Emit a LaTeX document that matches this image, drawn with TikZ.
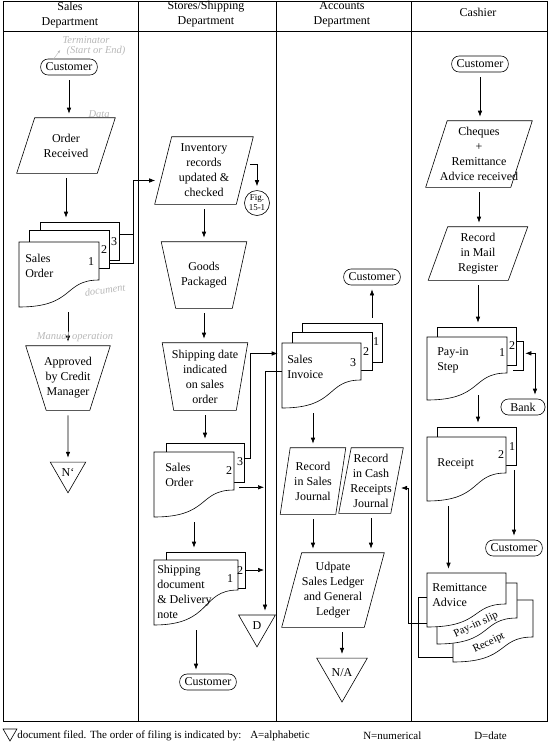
\documentclass[tikz,border=0pt]{standalone}
\usepackage{fontspec}
\setmainfont{Liberation Serif}
\usetikzlibrary{arrows.meta,calc,fit,shapes.geometric}

\tikzset{
  lane/.style={line width=0.8pt},
  txt/.style={inner sep=0pt, align=center},
  num/.style={inner sep=0pt},
  term/.style={draw, rounded corners=7.5pt, minimum height=16pt, inner xsep=5pt, inner ysep=0pt},
  filed/.style={draw, regular polygon, regular polygon sides=3, shape border rotate=180, inner sep=0pt, minimum size=#1},
  flow/.style={-{Latex[length=6pt,width=4.5pt]}, shorten <=5pt, shorten >=4pt},
  twoway/.style={{Latex[length=6pt,width=4.5pt]}-{Latex[length=6pt,width=4.5pt]}, shorten >=4pt},
  scrawl/.style={text=black!28, inner sep=0pt, font=\itshape\fontsize{10.5}{10}\selectfont},
  legend/.style={anchor=west, inner sep=0pt, font=\fontsize{11}{13}\selectfont},
  slip/.style={inner sep=0pt, font=\fontsize{11}{13}\selectfont},
}

% data box (parallelogram): name, centre, width, height, half slant, text
\newcommand{\iobox}[6]{%
  \node[txt, minimum width=#3pt, minimum height=#4pt] (#1) at (#2) {#6};
  \draw ($(#1.north west)+(#5,0)$) -- ($(#1.north east)+(#5,0)$) -- ($(#1.south east)-(#5,0)$) -- ($(#1.south west)-(#5,0)$) -- cycle;}
% manual operation (wide top): name, centre, width, height, half taper, text
\newcommand{\manop}[6]{%
  \node[txt, minimum width=#3pt, minimum height=#4pt] (#1) at (#2) {#6};
  \draw ($(#1.north west)-(#5,0)$) -- ($(#1.north east)+(#5,0)$) -- ($(#1.south east)-(#5,0)$) -- ($(#1.south west)+(#5,0)$) -- cycle;}
% copy behind a document: name, left, top, right, bottom
\newcommand{\copysheet}[5]{%
  \draw[fill=white] (#2,#3) rectangle (#4,#5);
  \node[inner sep=0pt, fit={(#2,#3) (#4,#5)}] (#1) {};}
% document with wavy edge: name, left, top, right, bottom left, bottom right
\newcommand{\docsheet}[6]{%
  \draw[fill=white] (#2,#3) -- (#4,#3) -- (#4,#6) .. controls ({#2+0.55*(#4-#2)},#6) and ({#2+0.7*(#4-#2)},#5) .. (#2,#5) -- cycle;
  \node[inner sep=0pt, fit={(#2,#3) (#4,#5)}] (#1) {};}

\begin{document}
\begin{tikzpicture}[x=1pt, y=-1pt, line width=0.6pt,
    every node/.append style={font=\fontsize{12}{15}\selectfont}]
	\useasboundingbox (0,0) rectangle (552,748);
	
	%%%%% LANES %%%%%
	\draw[lane] (3,1) rectangle (547,721);
	\draw[lane] (3,31) -- (547,31);
	\foreach \x in {138,276,411} \draw[lane] (\x,1) -- (\x,721);
	
	\node[txt] (hsales) at (70,15) {Sales\\Department};
	\node[txt] (hstore) at (206,14.5) {Stores/Shipping\\Department};
	\node[txt] (hacc) at (342,14) {Accounts\\Department};
	\node[txt] (hcash) at (478,12) {Cashier};
	
	%%%%% SALES %%%%%
	\node[term] (cust1) at (69,67) {Customer};
	\iobox{ord}{66,145.5}{80}{55}{9}{Order\\Received}
	
	\copysheet{so3}{40}{222}{119}{260}
	\copysheet{so2}{29}{230}{109}{268}
	\docsheet{so1}{19}{242}{99}{307}{280}
	\node[txt, anchor=west, align=left] (so1t) at (25,265.5) {Sales\\Order};
	\node[num] (so1n) at (91,262) {1};
	\node[num] (so2n) at (104,250) {2};
	\node[num] (so3n) at (114,242) {3};
	
	\manop{appr}{68,378}{63.5}{64}{10.25}{Approved\\by Credit\\Manager}
	\node[filed=41pt] (nfile) at (68,472.3) {N`};
	
	\draw[flow] (cust1.south) -- (cust1.south |- ord.north);
	\draw[flow] (ord.south) -- (ord.south |- so3.north);
	\draw[flow] (so1.south -| appr.north) -- (appr.north);
	\draw[flow] (appr.south) -- (nfile.north);
	
	% pencil notes
	\node[scrawl, align=left] (sc1) at (94,46) {Terminator\\\hspace*{4pt}(Start or End)};
	\draw[black!28, line width=0.4pt, -{Latex[length=3pt]}] ([xshift=-16pt,yshift=-1pt]cust1.north) -- ([xshift=-2pt,yshift=-4pt]sc1.west);
	\node[scrawl] (sc2) at (99,114) {Data};
	\node[scrawl, rotate=8] (sc3) at (105,290) {document};
	\node[scrawl] (sc4) at (75,337) {Manual operation};
	
	%%%%% STORES / SHIPPING %%%%%
	\iobox{inv}{204,170.5}{81}{67}{8.5}{Inventory\\records\\updated \&\\checked}
	\node[circle, draw, inner sep=0pt, minimum size=25pt, align=center, font=\fontsize{9}{10}\selectfont] (fig) at (257,203) {Fig.\\15-1};
	\manop{goods}{204,275}{70.5}{66}{7.25}{Goods\\Packaged}
	\manop{shipd}{205,376.5}{73.5}{67}{5.75}{Shipping date\\indicated\\on sales\\order}
	
	\draw ([yshift=7pt]so3.east) -- ++(14.5,0);
	\draw[flow, shorten <=0pt] ([yshift=5pt]so2.south east) -| ([xshift=-30pt,yshift=-10pt]inv.west) -- ([xshift=-4pt,yshift=-10pt]inv.west);
	
	\copysheet{sos2}{166}{443}{244}{482}
	\docsheet{sos1}{154}{452}{234}{517}{490}
	\node[txt, anchor=west, align=left] (sos1t) at (165,474.5) {Sales\\Order};
	\node[num] (sos1n) at (229,471) {2};
	\node[num] (sos2n) at (240,462) {3};
	
	\copysheet{sd2}{166}{552}{245}{588}
	\docsheet{sd1}{154}{560}{238}{625}{590}
	\node[txt, anchor=west, align=left] (sd1t) at (157,592) {Shipping\\document\\\& Delivery\\note};
	\node[num] (sd1n) at (230,579) {1};
	\node[num] (sd2n) at (240,571) {2};
	
	\node[term] (cust2) at (208,682) {Customer};
	\node[filed=42.5pt] (dfile) at (257,625.6) {D};
	\coordinate (dtop) at ([xshift=8pt]dfile.north);
	\coordinate (so2out) at ([yshift=30pt]sos1.south east);
	
	\draw[flow] ([yshift=6pt]inv.east) -| (fig.north);
	\draw[flow] (inv.south) -- (goods.north);
	\draw[flow] (goods.south) -- (goods.south |- shipd.north);
	\draw[flow] (shipd.south) -- (shipd.south |- sos2.north);
	\draw[flow] (sos1.south) -- (sos1.south |- sd2.north);
	\draw[flow] (sd1.south) -- (sd1.south |- cust2.north);
	
	%%%%% ACCOUNTS %%%%%
	\node[term] (cust3) at (372,277) {Customer};
	\copysheet{si3}{302}{323}{382}{362}
	\copysheet{si2}{292}{332}{372}{370}
	\docsheet{si1}{282}{343}{361}{408}{380}
	\node[txt, anchor=west, align=left] (si1t) at (287,366.5) {Sales\\Invoice};
	\node[num] (si1n) at (353,363) {3};
	\node[num] (si2n) at (366,352) {2};
	\node[num] (si3n) at (376,342) {1};
	
	\iobox{recs}{313,481}{55}{66}{5}{Record\\in Sales\\Journal}
	\iobox{recc}{371,480.5}{51.5}{65}{6.25}{Record\\in Cash\\Receipts\\Journal}
	\iobox{upd}{333,590}{82}{74}{10}{Udpate\\Sales Ledger\\and General\\Ledger}
	\node[filed=51pt] (nafile) at (342,672.75) {N/A};
	
	\draw[flow, shorten <=0pt] ([yshift=4pt]sos2.east) -- ++(6,0) |- ([yshift=22pt]si1.west);
	\draw[flow, shorten <=0pt] ([yshift=4pt]si1.west) -| (dtop);
	\draw[flow, shorten >=1pt] (so2out) -- (so2out -| dtop);
	\draw[flow, shorten <=0pt, shorten >=1pt] (sd2.east) -- (sd2.east -| dtop);
	
	\draw[flow] (cust3.south |- si3.north) -- (cust3.south);
	\draw[flow] (recs.north |- si1.south) -- (recs.north);
	\draw[flow] (recs.south) -- (recs.south |- upd.north);
	\draw[flow] (recc.south) -- (recc.south |- upd.north);
	\draw[flow] (nafile.north |- upd.south) -- (nafile.north);
	
	%%%%% CASHIER %%%%%
	\node[term] (cust4) at (480,64) {Customer};
	\iobox{chq}{479,154}{84.5}{66}{10.75}{Cheques\\+\\Remittance\\Advice received}
	\iobox{mail}{478,253.5}{79.5}{53}{9.75}{Record\\in Mail\\Register}
	
	\copysheet{pay2}{437}{327}{516}{365}
	\docsheet{pay1}{427}{337}{507}{400}{373}
	\node[txt, anchor=west, align=left] (pay1t) at (437,360.5) {Pay-in\\Step};
	\node[num] (pay1n) at (502,353) {1};
	\node[num] (pay2n) at (512,346) {2};
	\node[term, minimum width=44pt] (bank) at (523,407) {Bank};
	
	\copysheet{rc2}{437}{427}{516}{465}
	\docsheet{rc1}{427}{437}{506}{501}{473}
	\node[txt, anchor=west] (rc1t) at (437,464) {Receipt};
	\node[num] (rc1n) at (501,455) {2};
	\node[num] (rc2n) at (512,447) {1};
	\node[term] (cust5) at (514,548) {Customer};
	
	\docsheet{rem3}{453}{600}{533}{662}{637}
	\docsheet{rem2}{437}{583}{517}{644}{618}
	\docsheet{rem1}{427}{573}{506}{627}{604}
	\node[txt, anchor=west, align=left] (rem1t) at (432,595) {Remittance\\Advice};
	\node[slip, rotate=25] (rem2t) at (476,625) {Pay-in slip};
	\node[slip, rotate=26] (rem3t) at (489,643) {Receipt};
	
	\coordinate (bk) at ([xshift=9pt,yshift=12pt]pay2.south east);
	\coordinate (rcout) at ([xshift=-18pt]rc1.south);
	\draw[flow] (cust4.south) -- (cust4.south |- chq.north);
	\draw[flow] (chq.south) -- (chq.south |- mail.north);
	\draw[flow] (mail.south) -- (mail.south |- pay2.north);
	\draw[flow, shorten <=-5pt] (pay1.south -| mail.south) -- (mail.south |- rc2.north);
	\draw ([yshift=24pt]pay2.south east) -- ++(7,0) -- ++(0,29) -- ++(-10,0);
	\draw[twoway] (bk) -| ([xshift=12pt]bank.north);
	\draw[flow] (rcout) -- (rcout |- rem1.north);
	\draw[flow] (cust5.north |- rc2.south) -- (cust5.north);
	\draw ([yshift=3pt]rem1.west) -- ++(-8,0) |- ([yshift=5pt]rem3.south west);
	\draw[flow, shorten <=0pt] ([yshift=4pt]rem1.south west) -- ++(-18,0) |- ([yshift=-7.5pt]recc.east);
	
	%%%%% LEGEND %%%%%
	\node[filed=16pt] (legtri) at (10,733) {};
	\node[legend] (legtxt) at (17,736) {document filed. The order of filing is indicated by:};
	\node[legend] (lega) at (250,736) {A=alphabetic};
	\node[legend] (legn) at (363,736) {N=numerical};
	\node[legend] (legd) at (474,736) {D=date};
\end{tikzpicture}
\end{document}
